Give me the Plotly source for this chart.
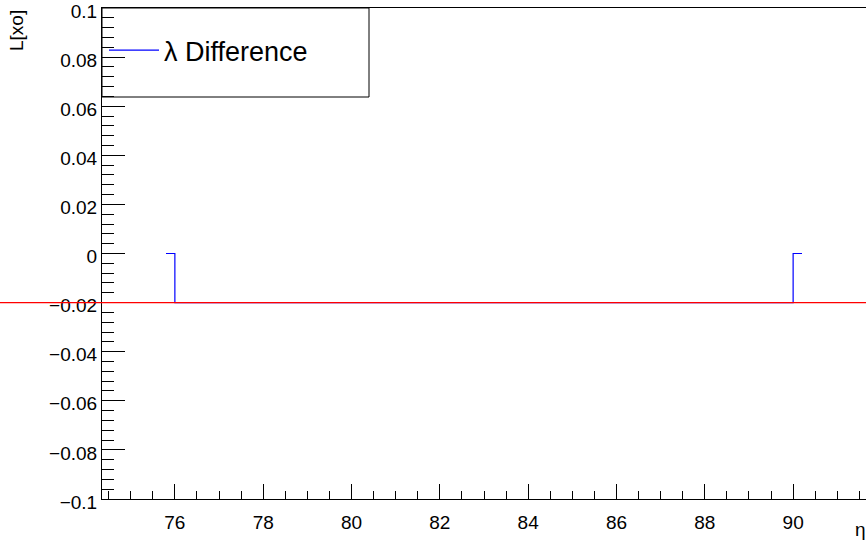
import plotly.graph_objects as go

# Histogram data (step edges and bin values)
bin_edges = [75.8, 76.0, 90.0, 90.2]
bin_values = [0.0, -0.02, 0.0, 0.0]
reference_level = -0.02

x_range = [74.35, 91.65]
y_range = [-0.1000001, 0.1000001]

x_tick_vals = [76, 78, 80, 82, 84, 86, 88, 90]
x_tick_text = ["76", "78", "80", "82", "84", "86", "88", "90"]
y_tick_vals = [-0.1, -0.08, -0.06, -0.04, -0.02, 0, 0.02, 0.04, 0.06, 0.08, 0.1]
y_tick_text = ["\u22120.1", "\u22120.08", "\u22120.06", "\u22120.04", "\u22120.02", "0",
               "0.02", "0.04", "0.06", "0.08", "0.1"]

W, H = 866, 544
L, R, T, B = 102, 0, 8, 45
pw = W - L - R
ph = H - T - B

font_family = "Liberation Sans, Arial, Helvetica, sans-serif"

fig = go.Figure()
fig.add_trace(go.Scatter(
    x=bin_edges, y=bin_values, mode="lines", line_shape="hv",
    line=dict(color="#0000ff", width=1.2), name="\u03bb Difference",
))

fig.update_layout(
    width=W, height=H,
    margin=dict(l=L, r=R, t=T, b=B, pad=0, autoexpand=False),
    paper_bgcolor="white", plot_bgcolor="white",
    font=dict(family=font_family, color="black", size=19),
    showlegend=True,
    legend=dict(x=(104 - L) / pw, y=1 - 18 / ph,
                xanchor="left", yanchor="top",
                bgcolor="rgba(0,0,0,0)", borderwidth=0,
                font=dict(size=27, family=font_family), itemwidth=50),
    xaxis=dict(range=x_range, showgrid=False, zeroline=False, automargin=False,
               showline=True, linecolor="black", linewidth=1, mirror=True,
               ticks="inside", ticklen=15, tickwidth=1, tickcolor="black",
               tickvals=x_tick_vals, ticktext=x_tick_text,
               ticklabelstandoff=6, ticklabeloverflow="allow",
               minor=dict(ticks="inside", ticklen=8, tickwidth=1, tickcolor="black",
                          dtick=0.5, tick0=0, showgrid=False)),
    yaxis=dict(range=y_range, showgrid=False, zeroline=False, automargin=False,
               showline=True, linecolor="black", linewidth=1, mirror=False,
               ticks="inside", ticklen=23, tickwidth=1, tickcolor="black",
               tickvals=y_tick_vals, ticktext=y_tick_text,
               ticklabelstandoff=0, ticklabelshift=3, ticklabeloverflow="allow",
               minor=dict(ticks="inside", ticklen=12, tickwidth=1, tickcolor="black",
                          dtick=0.004, tick0=0, showgrid=False)),
)

# Legend box
fig.add_shape(type="rect", xref="paper", yref="paper",
              x0=0, x1=(369 - L) / pw, y0=1 - (97 - T) / ph, y1=1,
              line=dict(color="black", width=1), fillcolor="rgba(0,0,0,0)")

# Red reference line across whole canvas width
fig.add_shape(type="line", xref="paper", yref="y",
              x0=-L / pw, x1=1, y0=reference_level, y1=reference_level,
              line=dict(color="#ff0000", width=1.2))

# Axis titles
fig.add_annotation(text="L[xo]", xref="paper", yref="paper",
                   x=(4 - L) / pw, y=1, xanchor="left", yanchor="top",
                   textangle=-90, showarrow=False,
                   font=dict(size=19, family=font_family))
fig.add_annotation(text="\u03b7", xref="paper", yref="paper",
                   x=(860 - L) / pw, y=-(529 - T - ph) / ph, xanchor="center", yanchor="middle",
                   showarrow=False, font=dict(size=19, family=font_family))

fig.write_html("out.html",
               config={"displayModeBar": False},
               post_script="document.body.style.margin='0';document.body.style.overflow='hidden';")
